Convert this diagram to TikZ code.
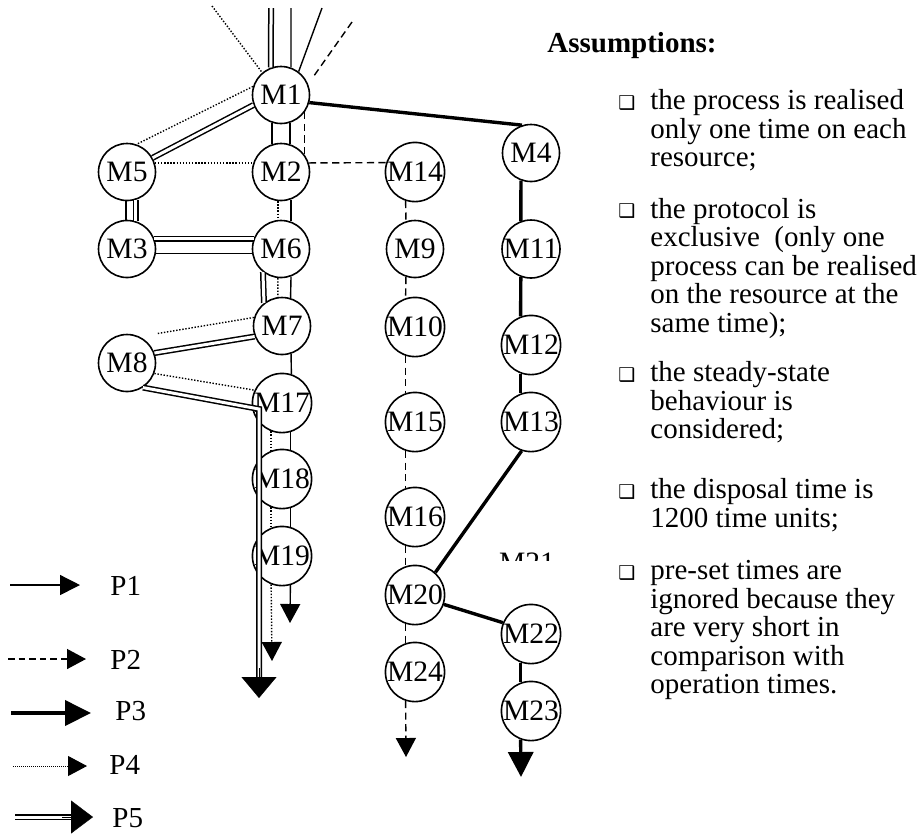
\documentclass[tikz,border=0pt]{standalone}
\usepackage{fontspec}
\setmainfont{Liberation Serif}
\newfontfamily\symfont{DejaVu Sans}
\usetikzlibrary{arrows.meta,calc}
\newcommand\dgfont{\fontsize{14.5}{14.25}\selectfont}

\begin{document}
\begin{tikzpicture}[x=0.5pt,y=-0.5pt,
  mnode/.style={circle, draw, line width=0.8pt, minimum size=28.5pt, inner sep=0pt, fill=white, font=\fontsize{14.8}{14.8}\selectfont},
  txt/.style={inner sep=0pt, align=left, anchor=base west, font=\dgfont},
  bul/.style={inner sep=0pt, font=\symfont\fontsize{9.5}{9.5}\selectfont},
  lbl/.style={inner sep=0pt, anchor=west, font=\dgfont},
  p1/.style={draw, line width=0.7pt},
  p2/.style={draw, line width=0.7pt, dash pattern=on 3.6pt off 2.2pt},
  p3/.style={draw, line width=1.7pt},
  p4/.style={draw, line width=0.7pt, dash pattern=on 0.7pt off 0.85pt},
  p4fine/.style={draw, line width=0.5pt, dash pattern=on 0.5pt off 0.5pt},
  p5/.style={draw, line width=0.75pt, double=white, double distance=1.5pt},
  tipA/.style={-{Triangle[width=10pt,length=9.5pt]}},
  tipB/.style={-{Triangle[width=12.5pt,length=12.5pt]}},
  tipC/.style={line width=0.2pt, -{Triangle[width=17.5pt,length=10.5pt]}},
]
\useasboundingbox (0,0) rectangle (919,837);

% ---- resources ----
\node[mnode] (M1)  at (281,95)  {M1};
\node[mnode] (M2)  at (281,172) {M2};
\node[mnode] (M5)  at (127,172) {M5};
\node[mnode] (M3)  at (127,249) {M3};
\node[mnode] (M6)  at (281,249) {M6};
\node[mnode] (M7)  at (282,326) {M7};
\node[mnode] (M8)  at (127,363) {M8};
\node[mnode] (M17) at (282,403) {M17};
\node[mnode] (M18) at (282,479) {M18};
\node[mnode] (M19) at (282,556) {M19};
\node[mnode] (M14) at (415,172) {M14};
\node[mnode] (M9)  at (415,249) {M9};
\node[mnode] (M10) at (415,327) {M10};
\node[mnode] (M15) at (415,422) {M15};
\node[mnode] (M16) at (415,517) {M16};
\node[mnode] (M20) at (415,595) {M20};
\node[mnode] (M24) at (415,672) {M24};
\node[mnode] (M4)  at (531,153) {M4};
\node[mnode] (M11) at (531,249) {M11};
\node[mnode] (M12) at (531,345) {M12};
\node[mnode] (M13) at (531,422) {M13};
\node[mnode] (M22) at (531,634) {M22};
\node[mnode] (M23) at (531,711) {M23};

% partly hidden label
\begin{scope}
  \clip (495,552) rectangle (565,560);
  \node[inner sep=0pt, font=\fontsize{14.8}{14.8}\selectfont] (M21) at (527,563) {M21};
\end{scope}

% ---- free ends ----
\coordinate (t1)  at (291,8);
\coordinate (t1b) at (322,8);
\coordinate (t2)  at (352,22);
\coordinate (t4)  at (212,6);
\coordinate (t5)  at (271,8);
\coordinate (e1)  at (290,623);
\coordinate (e2)  at (406,757);
\coordinate (e3)  at (521,777);
\coordinate (e4)  at (272,661);
\coordinate (k5)  at (259,409);
\coordinate (b5)  at (259,679);
\coordinate (s5)  at (259,668);
\coordinate (e5)  at (259,698);

% ---- P1: thin solid ----
\draw[p1] (t1) -- (M1.70);
\draw[p1] (M1.-72) -- (M2.72);
\draw[p1] (M2.-70) -- (M6.70);
\draw[p1] (M6.-70) -- (M7.73);
\draw[p1] (M7.-72) -- (M17.72);
\draw[p1] (M17.-74) -- (M18.74);
\draw[p1] (M18.-74) -- (M19.74);
\draw[p1, tipA] (M19.-74) -- (e1);
% further thin solid links
\draw[p1] (t1b) -- (M1.53);
\draw[p1] (M1.-108) -- (M2.108);
\draw[p1] (M5.-92) -- (M3.92);
\draw[p1] (M3.-9) -- (M6.189);

% ---- P2: dashed ----
\draw[p2, shorten >=4.25pt] (t2) -- (M1.22);
\draw[p2] (M1.-36) -- (M2.36);
\draw[p2] (M2.18) -- (M14.162);
\draw[p2] (M14.-108) -- (M9.108);
\draw[p2] (M9.-108) -- (M10.108);
\draw[p2] (M10.-108) -- (M15.108);
\draw[p2] (M15.-108) -- (M16.108);
\draw[p2] (M16.-108) -- (M20.108);
\draw[p2] (M20.-108) -- (M24.108);
\draw[p2, tipA] (M24.-108) -- (e2);

% ---- P3: thick ----
\draw[p3] (M1.-15) -- (M4.108);
\draw[p3] (M4.-110) -- (M11.110);
\draw[p3] (M11.-110) -- (M12.110);
\draw[p3] (M12.-110) -- (M13.110);
\draw[p3] (M13.-108) -- (M20.48);
\draw[p3] (M20.-18) -- (M22.158);
\draw[p3] (M22.-110) -- (M23.110);
\draw[p3, tipB] (M23.-110) -- (e3);

% ---- P4: dotted ----
\draw[p4] (t4) -- (M1.130);
\draw[p4] (M1.163) -- (M5.71);
\draw[p4] (M5.18) -- (M2.162);
\draw[p4] (M2.-96) -- (M6.96);
\draw[p4] (M6.-96) -- (M7.98);
\draw[p4] (M7.163) -- (M8.north -| M8.east);
\draw[p4] (M8.-21) -- (M17.155);
\draw[p4] (M17.-111) -- (M18.111);
\draw[p4] (M18.-111) -- (M19.111);
\draw[p4, tipA] (M19.-111) -- (e4);

% ---- P5: double ----
\draw[p5] (t5) -- (M1.110);
\draw[p5] (M1.200) -- (M5.29);
\draw[p5] (M5.-73) -- (M3.73);
\draw[p5] (M3.21) -- (M6.159);
\draw[p5] (M6.-128) -- (M7.128);
\draw[p5] (M7.201) -- (M8.20);
\draw[p5] (M8.-57) -- (k5) -- (b5);
\draw[tipC] (s5) -- (e5);

% ---- legend ----
\node[lbl] (lp1) at (110,586) {P1};
\node[lbl] (lp2) at (110,660) {P2};
\node[lbl] (lp3) at (115,711) {P3};
\node[lbl] (lp4) at (109,765) {P4};
\node[lbl] (lp5) at (112,818) {P5};
\coordinate (l1a) at (10,585); \coordinate (l1b) at (80,585);
\coordinate (l2a) at (8,659);  \coordinate (l2b) at (86,659);
\coordinate (l3a) at (11,713); \coordinate (l3b) at (91,713);
\coordinate (l4a) at (13,766); \coordinate (l4b) at (87,766);
\coordinate (l5a) at (15,817); \coordinate (l5m) at (73,817);
\coordinate (l5s) at (62,817); \coordinate (l5b) at (93,817);
\draw[p1, -{Triangle[width=10pt,length=10pt]}] (l1a) -- (l1b);
\draw[p2, dash pattern=on 3.3pt off 2pt, -{Triangle[width=10pt,length=9.5pt]}] (l2a) -- (l2b);
\draw[line width=2pt, -{Triangle[width=12.5pt,length=13pt]}] (l3a) -- (l3b);
\draw[p4fine, -{Triangle[width=10pt,length=9.5pt]}] (l4a) -- (l4b);
\draw[p5] (l5a) -- (l5m);
\draw[line width=0.2pt, -{Triangle[width=16.5pt,length=11pt]}] (l5s) -- (l5b);

% ---- assumptions (each node is placed at the baseline of its last line) ----
\node[txt, font=\dgfont\bfseries] (hd) at (547,52) {Assumptions:};
\node[bul] (b1) at (627,103) {❑};
\node[txt] (a1) at (650,166.5) {the process is realised\\only one time on each\\resource;};
\node[bul] (b2) at (627,211.5) {❑};
\node[txt] (a2) at (650,332) {the protocol is\\exclusive~ (only one\\process can be realised\\on the resource at the\\same time);};
\node[bul] (b3) at (627,375) {❑};
\node[txt] (a3) at (650,438.5) {the steady-state\\behaviour is\\considered;};
\node[bul] (b4) at (627,492) {❑};
\node[txt] (a4) at (650,527) {the disposal time is\\1200 time units;};
\node[bul] (b5) at (627,573) {❑};
\node[txt] (a5) at (650,693.5) {pre-set times are\\ignored because they\\are very short in\\comparison with\\operation times.};
\end{tikzpicture}
\end{document}
